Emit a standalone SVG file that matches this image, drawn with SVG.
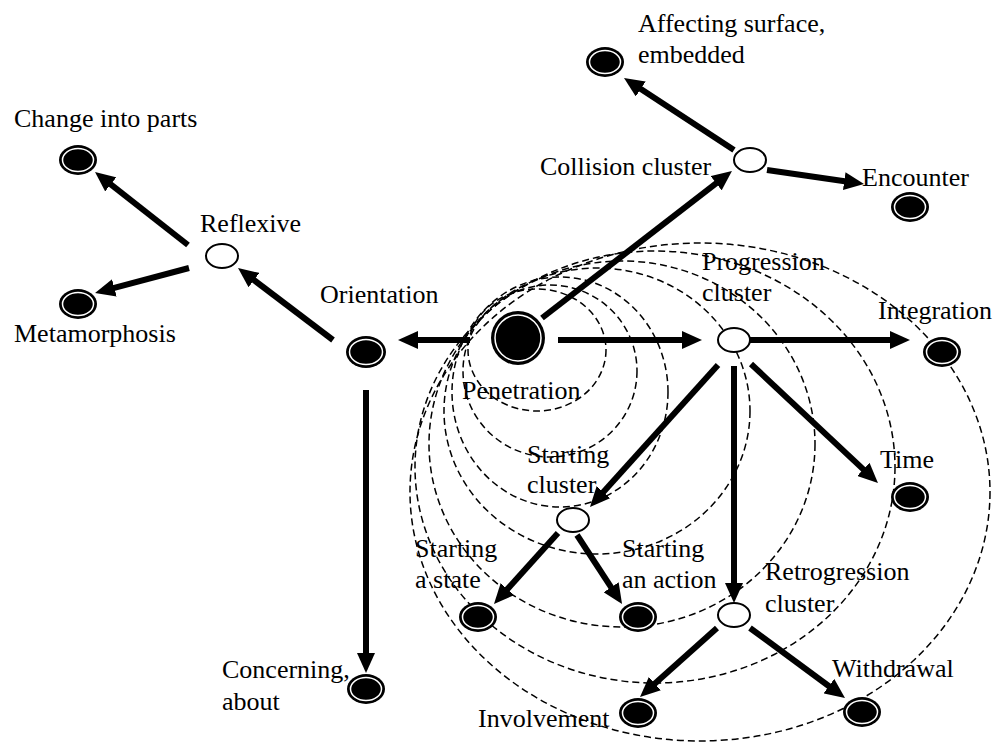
<svg xmlns="http://www.w3.org/2000/svg" width="998" height="745" viewBox="0 0 998 745">
<style>
.bg{fill:#fff}
.d{fill:none;stroke:#000;stroke-width:1.5;stroke-dasharray:7 4}
.c line{stroke:#000;stroke-width:6;marker-end:url(#ah)}
.o{fill:#fff;stroke:#000;stroke-width:2}
.f{fill:#000}
.fi{fill:#000;stroke:#fff;stroke-width:1.5}
text{font-family:"Liberation Serif","Times New Roman",serif;font-size:26px;fill:#000}
</style>
<defs>
<marker id="ah" markerUnits="userSpaceOnUse" markerWidth="20" markerHeight="18" refX="4" refY="9" orient="auto">
<path d="M0,0 L20,9 L0,18 Z" fill="#000"/>
</marker>
</defs>
<rect class="bg" width="998" height="745"/>
<g id="clusters">
<ellipse class="d" cx="537" cy="350" rx="69" ry="61"/>
<ellipse class="d" cx="550" cy="371" rx="87" ry="86"/>
<ellipse class="d" cx="560" cy="392" rx="108" ry="115"/>
<ellipse class="d" cx="597" cy="411" rx="153" ry="143"/>
<ellipse class="d" cx="622" cy="444" rx="193" ry="183"/>
<ellipse class="d" cx="655" cy="467" rx="240" ry="216"/>
<ellipse class="d" cx="700" cy="492" rx="290" ry="249"/>
</g>
<g id="connectors" class="c">
<line x1="188" y1="245" x2="107.6" y2="181.9"/>
<line x1="189" y1="268" x2="110.5" y2="288.9"/>
<line x1="333" y1="340" x2="250.8" y2="277.7"/>
<line x1="470" y1="340" x2="414" y2="340"/>
<line x1="366" y1="390" x2="366" y2="657"/>
<line x1="542" y1="318" x2="719.3" y2="180.8"/>
<line x1="734" y1="150" x2="637.4" y2="86.8"/>
<line x1="767" y1="170" x2="848.2" y2="181.7"/>
<line x1="558" y1="340" x2="686" y2="340"/>
<line x1="750" y1="340" x2="894" y2="340"/>
<line x1="751" y1="364" x2="866.3" y2="472.1"/>
<line x1="734" y1="366" x2="734" y2="587"/>
<line x1="718" y1="365" x2="600.7" y2="495.1"/>
<line x1="558" y1="533" x2="504.7" y2="592.1"/>
<line x1="577" y1="535" x2="613.3" y2="590.6"/>
<line x1="717" y1="628" x2="651.9" y2="686.3"/>
<line x1="750" y1="628" x2="832.1" y2="688.5"/>
</g>
<g id="affecting"><ellipse class="f" cx="605" cy="62" rx="19" ry="15"/><ellipse class="fi" cx="605" cy="62" rx="15.5" ry="11.5"/><text x="638" y="32">Affecting surface,</text><text x="638" y="63">embedded</text></g>
<g id="collision"><ellipse class="o" cx="750" cy="160" rx="16" ry="12"/><text x="540" y="175">Collision cluster</text></g>
<g id="encounter"><ellipse class="f" cx="910" cy="207" rx="19" ry="15"/><ellipse class="fi" cx="910" cy="207" rx="15.5" ry="11.5"/><text x="862" y="186">Encounter</text></g>
<g id="change"><ellipse class="f" cx="78" cy="160" rx="19" ry="15"/><ellipse class="fi" cx="78" cy="160" rx="15.5" ry="11.5"/><text x="14" y="127">Change into parts</text></g>
<g id="reflexive"><ellipse class="o" cx="222" cy="256" rx="16" ry="12"/><text x="200" y="232">Reflexive</text></g>
<g id="metamorphosis"><ellipse class="f" cx="78" cy="304" rx="19" ry="15"/><ellipse class="fi" cx="78" cy="304" rx="15.5" ry="11.5"/><text x="14" y="342">Metamorphosis</text></g>
<g id="orientation"><ellipse class="f" cx="366" cy="352" rx="20" ry="16"/><ellipse class="fi" cx="366" cy="352" rx="16.5" ry="12.5"/><text x="320" y="303">Orientation</text></g>
<g id="penetration"><circle class="f" cx="518" cy="338" r="27"/><circle class="fi" cx="518" cy="338" r="23"/><text x="462" y="399">Penetration</text></g>
<g id="progression"><ellipse class="o" cx="734" cy="340" rx="16" ry="12"/><text x="702" y="270">Progression</text><text x="702" y="301">cluster</text></g>
<g id="integration"><ellipse class="f" cx="942" cy="352" rx="19" ry="15"/><ellipse class="fi" cx="942" cy="352" rx="15.5" ry="11.5"/><text x="878" y="319">Integration</text></g>
<g id="time"><ellipse class="f" cx="910" cy="497" rx="19" ry="15"/><ellipse class="fi" cx="910" cy="497" rx="15.5" ry="11.5"/><text x="880" y="468">Time</text></g>
<g id="starting-cluster"><ellipse class="o" cx="573" cy="520" rx="16" ry="12"/><text x="527" y="463">Starting</text><text x="527" y="493">cluster</text></g>
<g id="starting-state"><ellipse class="f" cx="478" cy="617" rx="19" ry="15"/><ellipse class="fi" cx="478" cy="617" rx="15.5" ry="11.5"/><text x="415" y="557">Starting</text><text x="415" y="588">a state</text></g>
<g id="starting-action"><ellipse class="f" cx="638" cy="617" rx="19" ry="15"/><ellipse class="fi" cx="638" cy="617" rx="15.5" ry="11.5"/><text x="622" y="557">Starting</text><text x="622" y="588">an action</text></g>
<g id="retrogression"><ellipse class="o" cx="734" cy="615" rx="16" ry="12"/><text x="765" y="580">Retrogression</text><text x="765" y="612">cluster</text></g>
<g id="involvement"><ellipse class="f" cx="638" cy="713" rx="19" ry="15"/><ellipse class="fi" cx="638" cy="713" rx="15.5" ry="11.5"/><text x="478" y="727">Involvement</text></g>
<g id="withdrawal"><ellipse class="f" cx="862" cy="712" rx="19" ry="15"/><ellipse class="fi" cx="862" cy="712" rx="15.5" ry="11.5"/><text x="832" y="677">Withdrawal</text></g>
<g id="concerning"><ellipse class="f" cx="366" cy="689" rx="19" ry="15"/><ellipse class="fi" cx="366" cy="689" rx="15.5" ry="11.5"/><text x="222" y="678">Concerning,</text><text x="222" y="710">about</text></g>
</svg>
